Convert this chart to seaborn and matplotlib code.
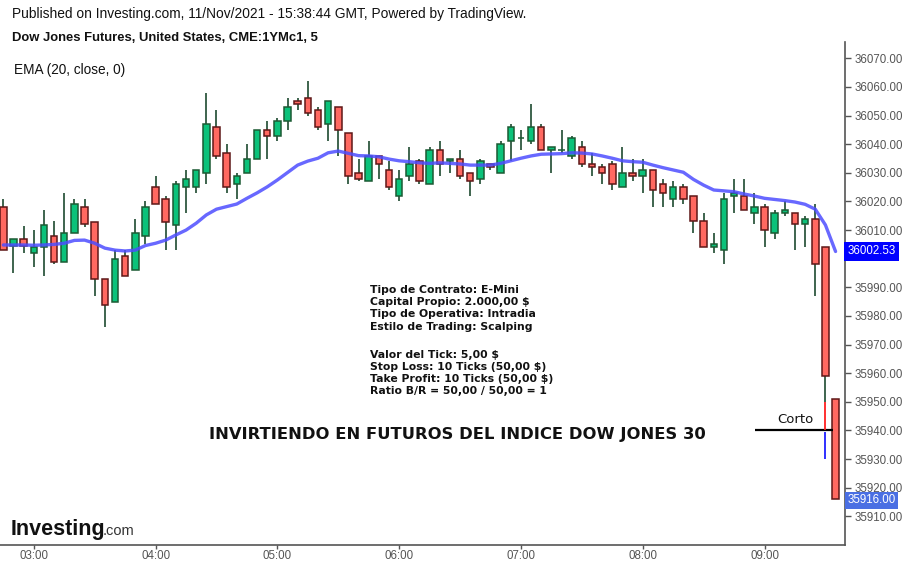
import numpy as np
import pandas as pd
import matplotlib
matplotlib.use("Agg")
import matplotlib.pyplot as plt
import seaborn as sns

# ---------------- data ----------------
opens = [36018, 36004.5, 36007, 36002, 36004, 36008, 35999, 36009, 36018, 36012.7,
         35993, 35985, 36001, 35996, 36008, 36025, 36020.7, 36011.7, 36025, 36025,
         36030, 36046, 36037, 36026, 36030, 36035, 36045, 36043, 36048, 36055,
         36056, 36052, 36047, 36053, 36044, 36030, 36027, 36036, 36031, 36022,
         36029, 36034, 36026, 36038, 36034, 36035, 36030, 36028, 36033, 36030,
         36041, 36042, 36041, 36046, 36038, 36038, 36036, 36039, 36033, 36032,
         36033, 36025, 36030, 36029, 36031, 36026, 36021, 36025, 36022, 36013,
         36004, 36003, 36022, 36022, 36016, 36018, 36009, 36016, 36016, 36012,
         36014, 36004, 35951]
highs = [36021, 36007, 36011.5, 36010, 36017, 36013, 36023, 36021, 36021, 36012.7,
         35993, 36003, 36003, 36014, 36020, 36029, 36022, 36027, 36031, 36031,
         36058, 36052, 36040, 36030, 36040, 36045, 36048, 36049, 36056, 36056,
         36062, 36053, 36055, 36053, 36044, 36035, 36041, 36036, 36034, 36031,
         36039, 36035, 36039, 36041, 36035, 36038, 36030, 36035, 36033, 36041,
         36047, 36045, 36054, 36047, 36039, 36045, 36043, 36041, 36037, 36033,
         36034, 36039, 36035, 36035, 36031, 36028, 36027, 36026, 36022, 36016,
         36009, 36023, 36028, 36028, 36023, 36019, 36017, 36020, 36016, 36015,
         36019, 36004, 35951]
lows = [36003, 35995, 36002, 35997, 35994, 35998, 35999, 36009, 36011, 35987,
        35976, 35985, 35994, 35996, 36005, 36019, 36003, 36003, 36016, 36023,
        36026, 36035, 36023, 36021, 36030, 36035, 36035, 36041, 36045, 36052,
        36050, 36045, 36041, 36036, 36026, 36027, 36027, 36028, 36024, 36020,
        36027, 36026, 36026, 36029, 36030, 36028, 36022, 36026, 36031, 36030,
        36034, 36038, 36040, 36038, 36030, 36037, 36035, 36032, 36029, 36026,
        36024, 36025, 36027, 36023, 36018, 36018, 36018, 36019, 36009, 36004,
        36002, 35998, 36016, 36017, 36012, 36004, 36007, 36015, 36003, 36004,
        35987, 35950, 35916]
closes = [36003, 36007, 36004.5, 36004, 36011.7, 35999, 36009, 36019, 36012, 35993,
          35984, 36000, 35994, 36009, 36018, 36019, 36012.7, 36026, 36028, 36031,
          36047, 36036, 36025, 36029, 36035, 36045, 36043, 36048, 36053, 36054,
          36051, 36046, 36055, 36045, 36029, 36028, 36036, 36033, 36025, 36028,
          36033, 36027, 36038, 36033, 36035, 36029, 36027, 36034, 36032, 36040,
          36046, 36042, 36046, 36038, 36039, 36038, 36042, 36033, 36032, 36030,
          36026, 36030, 36029, 36031, 36024, 36023, 36025, 36021, 36013, 36004,
          36005, 36021, 36023, 36017, 36018, 36010, 36016, 36017, 36012, 36014,
          35998, 35959, 35916]
ema20 = [36004.8, 36004.8, 36004.8, 36004.7, 36004.8, 36005.0, 36005.4, 36006.4, 36006.5, 36005.4,
         36003.7, 36003.0, 36002.7, 36003.0, 36004.6, 36005.4, 36006.5, 36008.3, 36010.0, 36012.4,
         36015.3, 36017.3, 36018.2, 36019.1, 36021.1, 36023.0, 36025.1, 36027.5, 36030.1, 36032.7,
         36034.1, 36035.1, 36037.0, 36037.6, 36036.8, 36036.0, 36035.9, 36035.6, 36034.8, 36034.2,
         36033.9, 36033.5, 36033.3, 36033.5, 36033.3, 36033.1, 36032.7, 36032.7, 36032.7, 36033.3,
         36034.2, 36035.1, 36035.9, 36036.5, 36036.6, 36036.7, 36037.0, 36036.9, 36036.6, 36035.9,
         36035.1, 36034.2, 36033.9, 36033.7, 36032.7, 36031.8, 36031.0, 36030.2, 36027.7, 36025.7,
         36024.0, 36023.7, 36023.4, 36022.6, 36021.9, 36021.1, 36020.7, 36020.3, 36019.8, 36019.0,
         36017.3, 36011.8, 36002.53]

time_labels = ["03:00", "04:00", "05:00", "06:00", "07:00", "08:00", "09:00"]
time_label_bars = [3, 15, 27, 39, 51, 63, 75]
price_ticks = [35910, 35920, 35930, 35940, 35950, 35960, 35970, 35980, 35990,
               36000, 36010, 36020, 36030, 36040, 36050, 36060, 36070]
hidden_price_ticks = [36000]   # covered by the last-EMA marker in the reference
last_ema = 36002.53
last_close = 35916.00

entry_price = 35940
stop_price = 35950
target_price = 35930
entry_bars = (74.1, 81.7)
trade_bar = 81

info_lines = ["Tipo de Contrato: E-Mini",
              "Capital Propio: 2.000,00 $",
              "Tipo de Operativa: Intradia",
              "Estilo de Trading: Scalping",
              "",
              "Valor del Tick: 5,00 $",
              "Stop Loss: 10 Ticks (50,00 $)",
              "Take Profit: 10 Ticks (50,00 $)",
              "Ratio B/R = 50,00 / 50,00 = 1"]
headline = "INVIRTIENDO EN FUTUROS DEL INDICE DOW JONES 30"
publisher = "Published on Investing.com, 11/Nov/2021 - 15:38:44 GMT, Powered by TradingView."
symbol_title = "Dow Jones Futures, United States, CME:1YMc1, 5"
ema_title = "EMA (20, close, 0)"

# ---------------- styling ----------------
sns.set_theme(style="white")
plt.rcParams["font.family"] = ["Liberation Sans", "DejaVu Sans"]

GREEN = "#0bc27a"
GREEN_EDGE = "#1b5a33"
RED = "#ff6961"
RED_EDGE = "#5e1717"
WICK = "#1e4a30"
AXIS = "#555555"

df = pd.DataFrame({"bar": np.arange(len(opens)), "open": opens, "high": highs,
                   "low": lows, "close": closes, "ema": ema20})
up = df["close"] >= df["open"]

W, H = 910, 568
fig = plt.figure(figsize=(W / 100, H / 100), dpi=100)
fig.patch.set_facecolor("white")
ax = fig.add_axes([0, (H - 545) / H, 845 / W, (545 - 42) / H])
ax.set_facecolor("white")

# wicks
ax.vlines(df["bar"], df["low"], df["high"], color=WICK, lw=1.2, zorder=2)
# bodies
bottoms = np.minimum(df["open"], df["close"])
heights = (df["close"] - df["open"]).abs()
ax.bar(df["bar"], heights, bottom=bottoms, width=0.64,
       color=np.where(up, GREEN, RED), edgecolor=np.where(up, GREEN_EDGE, RED_EDGE),
       linewidth=1.1, zorder=3)
# EMA
sns.lineplot(data=df, x="bar", y="ema", ax=ax, color="#4d4dff", lw=2.4, alpha=0.85,
             legend=False, zorder=4)

# trade markers
ax.hlines(entry_price, entry_bars[0], entry_bars[1], color="black", lw=1.6, zorder=5)
ax.vlines(trade_bar, entry_price, stop_price, color="#ff2020", lw=1.3, zorder=5)
ax.vlines(trade_bar, target_price, entry_price - 0.6, color="#2020ff", lw=1.3, zorder=5)
ax.text((entry_bars[0] + entry_bars[1]) / 2 + 0.1, entry_price + 4.0, "Corto",
        ha="center", va="center", fontsize=9.5, color="#111111", family=["DejaVu Sans"])

# axes
ax.set_xlim(-0.33, 82.93)
ax.set_ylim(35900.0, 36075.7)
ax.set_xlabel("")
ax.set_ylabel("")
for s in ["top", "left"]:
    ax.spines[s].set_visible(False)
for s in ["right", "bottom"]:
    ax.spines[s].set_visible(True)
    ax.spines[s].set_color(AXIS)
    ax.spines[s].set_linewidth(1.2)
ax.yaxis.tick_right()
ax.set_yticks(price_ticks)
ax.set_yticklabels(["" if v in hidden_price_ticks else f"{v:.2f}" for v in price_ticks])
ax.set_xticks(time_label_bars)
ax.set_xticklabels(time_labels)
ax.tick_params(axis="y", which="both", right=True, left=False, length=4, width=1,
               color=AXIS, labelcolor=AXIS, labelsize=8.3, pad=3)
ax.tick_params(axis="x", which="both", bottom=True, length=3, width=1,
               color=AXIS, labelcolor=AXIS, labelsize=8.3, pad=0.5)
ax.grid(False)

# last-value labels on price scale
ytr = ax.get_yaxis_transform()
ax.text(1.003, last_ema, f"{last_ema:.2f}", transform=ytr, ha="left", va="center",
        color="white", fontsize=8.3, clip_on=False, zorder=10,
        bbox=dict(boxstyle="square,pad=0.3", fc="#0000ff", ec="none"))
ax.text(1.003, last_close - 0.4, f"{last_close:.2f}", transform=ytr, ha="left", va="center",
        color="white", fontsize=8.3, clip_on=False, zorder=10,
        bbox=dict(boxstyle="square,pad=0.22", fc="#4a6fe3", ec="none"))

# header texts
def ftext(x, y, s, **kw):
    fig.text(x / W, 1 - y / H, s, **kw)

ftext(12, 14, publisher, fontsize=9.9, color="#111111", va="center", ha="left")
ftext(12, 38, symbol_title, fontsize=9.4, fontweight="bold", color="#111111",
      va="center", ha="left")
ftext(14, 70, ema_title, fontsize=9.8, color="#111111", va="center", ha="left")

# info block
y0 = 290
step = 12.2
for k, line in enumerate(info_lines):
    yy = y0 + k * step + (0.3 * step if k > 4 else 0)
    if line:
        ftext(370, yy, line, fontsize=7.85, fontweight="bold", color="#111111",
              va="center", ha="left", family=["DejaVu Sans"])

ftext(457, 435, headline, fontsize=11.8, fontweight="bold", color="#111111",
      va="center", ha="center", family=["DejaVu Sans"])

# logo
ftext(11, 535, "Investing", fontsize=15.5, fontweight="bold", color="#111111",
      va="baseline", ha="left")
ftext(103, 535, ".com", fontsize=10.5, color="#333333", va="baseline", ha="left")

fig.savefig("out.png", dpi=100, facecolor="white")
